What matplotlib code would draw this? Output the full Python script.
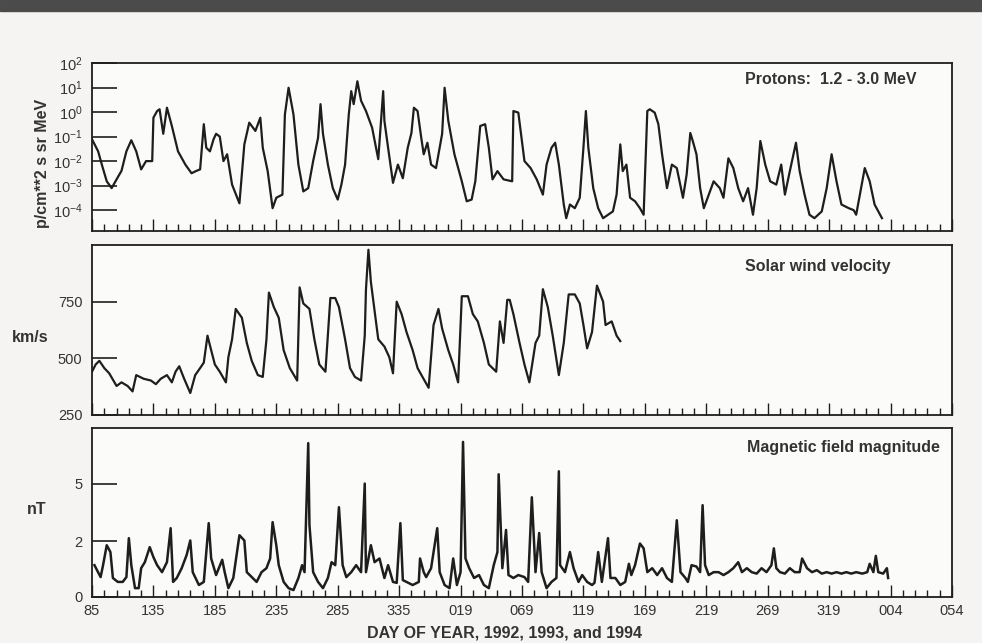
import numpy as np
import matplotlib.pyplot as plt
from matplotlib.patches import Rectangle
from matplotlib.ticker import FixedLocator, FuncFormatter, LogFormatterMathtext, NullLocator

plt.rcParams['font.family'] = ['Liberation Sans', 'DejaVu Sans']

# continuous day count from 1992 day 0 (1992 is a leap year)
proton_day = [85, 90, 93, 97, 101, 105, 109, 113, 117, 121, 125, 129, 134, 135, 138, 140, 143, 146,
              150, 155, 161, 166, 170, 173, 176, 178, 181, 184, 186, 189, 192, 195, 199, 205, 209,
              213, 218, 222, 224, 228, 232, 235, 240, 242, 245, 249, 253, 257, 261, 265, 269, 271,
              273, 277, 281, 285, 288, 291, 294, 296, 298, 301, 304, 308, 313, 318, 322, 323, 326,
              330, 334, 338, 342, 345, 347, 350, 353, 355, 358, 361, 365, 370, 372, 375, 380, 386,
              390, 394, 397, 401, 405, 408, 411, 415, 420, 427, 428, 432, 437, 442, 447, 452, 455,
              459, 462, 465, 469, 471, 474, 478, 482, 485, 487, 489, 493, 497, 501, 505, 509, 512,
              515, 517, 520, 523, 527, 531, 534, 537, 539, 543, 546, 549, 553, 557, 561, 566, 569,
              572, 574, 577, 580, 583, 587, 591, 596, 599, 603, 607, 611, 615, 619, 623, 626, 629,
              633, 637, 642, 646, 649, 653, 658, 661, 665, 669, 673, 679, 683, 687, 691, 695, 701,
              705, 707, 711, 714, 718, 722, 728]
proton_flux = [7.8e-2, 2.5e-2, 7.2e-3, 1.5e-3, 7.9e-4, 1.8e-3, 4.0e-3, 2.5e-2, 7.1e-2, 2.5e-2,
               4.6e-3, 1.0e-2, 1.0e-2, 5.9e-1, 1.1, 1.3, 1.3e-1, 1.5, 2.7e-1, 2.5e-2, 7.2e-3,
               3.2e-3, 4.0e-3, 4.6e-3, 3.2e-1, 3.5e-2, 2.5e-2, 7.9e-2, 1.3e-1, 1.0e-1, 1.0e-2,
               1.9e-2, 1.1e-3, 1.9e-4, 4.8e-2, 3.7e-1, 1.7e-1, 5.9e-1, 3.5e-2, 3.9e-3, 1.2e-4,
               3.2e-4, 4.3e-4, 7.9e-1, 9.8, 7.9e-1, 7.2e-3, 5.8e-4, 7.9e-4, 1.0e-2, 8.9e-2, 2.1,
               1.3e-1, 7.2e-3, 7.9e-4, 2.7e-4, 1.1e-3, 7.2e-3, 7.9e-1, 7.1, 2.1, 18.0, 2.9, 1.1,
               2.3e-1, 1.2e-2, 7.1, 4.4e-1, 3.5e-2, 1.3e-3, 7.2e-3, 2.0e-3, 3.5e-2, 1.4e-1, 1.5,
               1.1, 8.9e-2, 1.9e-2, 5.6e-2, 7.2e-3, 5.2e-3, 1.3e-1, 9.8, 4.4e-1, 1.9e-2, 1.5e-3,
               2.3e-4, 2.7e-4, 1.5e-3, 2.7e-1, 3.2e-1, 3.5e-2, 1.8e-3, 3.9e-3, 1.8e-3, 1.5e-3,
               1.1, 9.5e-1, 1.0e-2, 5.2e-3, 1.8e-3, 4.3e-4, 7.2e-3, 3.5e-2, 5.6e-2, 7.2e-3,
               1.7e-4, 4.7e-5, 1.7e-4, 1.2e-4, 3.2e-4, 3.5e-2, 1.1, 3.5e-2, 7.9e-4, 1.2e-4,
               4.7e-5, 6.5e-5, 8.9e-5, 4.3e-4, 4.8e-2, 3.9e-3, 7.2e-3, 3.2e-4, 2.3e-4, 1.2e-4,
               6.5e-5, 1.1, 1.3, 9.5e-1, 3.2e-1, 1.9e-2, 7.9e-4, 7.2e-3, 5.2e-3, 3.2e-4, 2.8e-3,
               1.4e-1, 6.6e-2, 1.9e-2, 7.9e-4, 1.2e-4, 4.3e-4, 1.5e-3, 7.9e-4, 3.2e-4, 1.3e-2,
               5.2e-3, 7.9e-4, 2.3e-4, 7.9e-4, 6.5e-5, 7.9e-4, 6.6e-2, 7.2e-3, 1.5e-3, 1.1e-3,
               7.2e-3, 4.3e-4, 3.9e-3, 5.6e-2, 3.9e-3, 4.3e-4, 6.5e-5, 4.7e-5, 8.9e-5, 7.9e-4,
               1.9e-2, 1.5e-3, 1.7e-4, 1.2e-4, 1.0e-4, 6.5e-5, 7.9e-4, 5.2e-3, 1.5e-3, 1.7e-4,
               4.7e-5]

vel_day = [85, 88, 91, 95, 99, 105, 109, 114, 118, 121, 127, 133, 137, 141, 146, 150, 153, 156,
           160, 165, 169, 173, 176, 179, 182, 185, 189, 194, 196, 199, 202, 207, 211, 215, 220,
           224, 227, 229, 233, 237, 241, 246, 252, 254, 257, 262, 266, 270, 275, 279, 283, 286,
           291, 295, 299, 304, 307, 308, 310, 312, 315, 318, 323, 327, 330, 333, 337, 341, 346,
           350, 354, 359, 363, 367, 370, 375, 379, 383, 386, 391, 395, 399, 404, 408, 414, 417,
           420, 423, 425, 428, 433, 437, 441, 446, 449, 452, 456, 460, 465, 469, 473, 478, 482,
           485, 488, 492, 496, 501, 503, 508, 512, 515]
vel = [441, 473, 489, 457, 434, 378, 394, 378, 354, 426, 410, 402, 386, 410, 426, 394, 441, 465,
       410, 347, 426, 457, 481, 600, 536, 473, 441, 394, 505, 584, 718, 679, 568, 489, 426, 418,
       584, 790, 726, 679, 536, 457, 402, 813, 742, 718, 584, 473, 441, 766, 766, 726, 584, 457,
       418, 402, 600, 805, 979, 837, 710, 584, 552, 505, 434, 750, 695, 616, 536, 457, 418, 370,
       647, 718, 631, 536, 473, 394, 774, 774, 695, 663, 568, 473, 441, 663, 568, 758, 758, 695,
       568, 473, 394, 568, 600, 805, 726, 600, 426, 568, 782, 782, 742, 647, 544, 616, 821, 750,
       647, 663, 600, 576]

mag_day = [87, 92, 94, 97, 100, 102, 106, 110, 113, 115, 117, 120, 123, 125, 128, 132, 135, 138,
           142, 146, 149, 151, 154, 158, 162, 165, 167, 172, 176, 180, 182, 186, 191, 193, 196,
           200, 205, 209, 211, 215, 219, 223, 227, 230, 232, 235, 237, 241, 245, 249, 253, 256,
           258, 261, 262, 265, 269, 273, 277, 280, 283, 286, 289, 292, 296, 300, 304, 307, 308,
           312, 315, 319, 323, 326, 330, 333, 336, 338, 341, 346, 351, 352, 355, 357, 361, 366,
           368, 372, 376, 379, 382, 385, 387, 389, 392, 396, 400, 404, 408, 412, 415, 416, 419,
           422, 424, 428, 432, 437, 440, 443, 446, 449, 451, 455, 459, 463, 465, 466, 470, 474,
           477, 481, 484, 488, 492, 494, 497, 500, 505, 507, 511, 515, 519, 522, 524, 527, 531,
           534, 537, 541, 545, 549, 553, 557, 561, 564, 568, 570, 573, 577, 580, 582, 584, 587,
           591, 595, 599, 603, 607, 611, 614, 618, 622, 626, 630, 634, 638, 640, 642, 645, 649,
           653, 657, 661, 663, 667, 671, 675, 679, 683, 687, 691, 695, 699, 703, 707, 712, 716,
           718, 721, 723, 725, 729, 732, 733]
mag = [1.05, 0.63, 1.05, 1.83, 1.55, 0.6, 0.47, 0.47, 0.63, 2.13, 1.05, 0.27, 0.27, 0.94, 1.16,
       1.75, 1.35, 1.05, 0.8, 1.16, 2.58, 0.47, 0.6, 0.94, 1.43, 2.03, 0.8, 0.37, 0.47, 2.82, 1.3,
       0.7, 1.25, 0.8, 0.27, 0.6, 2.26, 2.03, 0.8, 0.63, 0.47, 0.8, 0.94, 1.3, 2.87, 1.83, 1.05,
       0.47, 0.27, 0.21, 0.6, 1.05, 0.8, 7.9, 2.72, 0.8, 0.47, 0.27, 0.6, 1.16, 1.05, 3.63, 1.05,
       0.63, 0.8, 1.05, 0.8, 5.0, 0.8, 1.83, 1.16, 1.3, 0.6, 1.05, 0.47, 0.44, 2.82, 0.53, 0.47,
       0.37, 0.47, 1.3, 0.8, 0.63, 0.94, 2.58, 0.8, 0.37, 0.27, 1.3, 0.37, 0.8, 8.0, 1.3, 0.94,
       0.6, 0.7, 0.37, 0.27, 1.05, 1.55, 5.6, 0.94, 2.5, 0.7, 0.6, 0.7, 0.63, 0.47, 4.18, 0.8,
       2.36, 0.8, 0.27, 0.47, 0.6, 5.8, 1.05, 0.8, 1.55, 0.94, 0.47, 0.7, 0.47, 0.37, 0.44, 1.55,
       0.47, 2.13, 0.6, 0.6, 0.37, 0.47, 1.1, 0.7, 1.05, 1.9, 1.7, 0.8, 0.94, 0.7, 0.94, 0.6,
       0.47, 2.96, 0.8, 0.6, 0.47, 1.05, 1.0, 0.8, 3.74, 1.05, 0.7, 0.8, 0.8, 0.7, 0.8, 0.94,
       1.16, 0.8, 0.94, 0.8, 0.75, 0.94, 0.8, 1.05, 1.7, 0.94, 0.8, 0.75, 0.94, 0.8, 0.8, 1.3,
       0.94, 0.8, 0.87, 0.75, 0.8, 0.75, 0.8, 0.75, 0.8, 0.75, 0.8, 0.75, 0.8, 1.1, 0.8, 1.4,
       0.8, 0.75, 0.94, 0.6]

day_ticks = [85, 135, 185, 235, 285, 335, 385, 435, 485, 535, 585, 635, 685, 735, 785]
day_minor = list(range(95, 785, 10))


def doy(t, pos=None):
    t = int(round(t))
    if t <= 366:
        return str(t)
    if t <= 731:
        return f"{t - 366:03d}"
    return f"{t - 731:03d}"


ink = '#1e1e1e'
txt = '#333333'
fig = plt.figure(figsize=(9.82, 6.43), dpi=100, facecolor='#f5f4f2')
fig.patches.append(Rectangle((0, 1 - 11 / 643), 1, 11 / 643, transform=fig.transFigure,
                             color='#4b4b4b', zorder=0))

L, W = 92 / 982, 860 / 982
ax1 = fig.add_axes([L, 412 / 643, W, 168 / 643])
ax2 = fig.add_axes([L, 228 / 643, W, 170 / 643])
ax3 = fig.add_axes([L, 46 / 643, W, 169 / 643])

for ax in (ax1, ax2, ax3):
    ax.set_facecolor('#fbfbfa')
    for s in ax.spines.values():
        s.set_linewidth(1.3)
        s.set_color(ink)
    ax.set_xlim(85, 785)
    ax.xaxis.set_major_locator(FixedLocator(day_ticks))
    ax.xaxis.set_minor_locator(FixedLocator(day_minor))
    ax.tick_params(axis='x', which='major', direction='in', length=9, width=1.0, color=ink,
                   labelsize=10.5, labelcolor=txt, pad=5)
    ax.tick_params(axis='x', which='minor', direction='in', length=5, width=1.0, color=ink)
    ax.tick_params(axis='y', which='major', direction='in', length=18, width=1.2, color=ink,
                   labelsize=10.5, labelcolor=txt, pad=7)
    ax.tick_params(axis='y', which='minor', left=False)

# protons
ax1.plot(proton_day, proton_flux, color=ink, lw=1.6)
ax1.set_yscale('log')
ax1.set_ylim(10 ** -4.85, 1e2)
ax1.yaxis.set_major_locator(FixedLocator([1e-4, 1e-3, 1e-2, 1e-1, 1e0, 1e1, 1e2]))
ax1.yaxis.set_major_formatter(LogFormatterMathtext())
ax1.yaxis.set_minor_locator(NullLocator())
ax1.tick_params(axis='x', labelbottom=False)
ax1.text(0.759, 0.9, 'Protons:  1.2 - 3.0 MeV', transform=ax1.transAxes, fontsize=11.5,
         fontweight='bold', color=txt, va='center')

# solar wind
ax2.plot(vel_day, vel, color=ink, lw=1.6)
ax2.set_ylim(250, 1000)
ax2.set_yticks([250, 500, 750])
ax2.tick_params(axis='x', labelbottom=False)
ax2.text(0.759, 0.875, 'Solar wind velocity', transform=ax2.transAxes, fontsize=11.5,
         fontweight='bold', color=txt, va='center')

# magnetic field, compressed scale as in the original
ax3.set_yscale('function', functions=(lambda v: np.log1p(np.asarray(v) / 4.5),
                                      lambda v: 4.5 * np.expm1(np.asarray(v))))
ax3.plot(mag_day, mag, color=ink, lw=1.8)
ax3.set_ylim(0, 9.2)
ax3.yaxis.set_major_locator(FixedLocator([0, 2, 5]))
ax3.yaxis.set_major_formatter(FuncFormatter(lambda v, p: f"{v:g}"))
ax3.yaxis.set_minor_locator(NullLocator())
ax3.xaxis.set_major_formatter(FuncFormatter(doy))
ax3.text(0.762, 0.885, 'Magnetic field magnitude', transform=ax3.transAxes, fontsize=11.5,
         fontweight='bold', color=txt, va='center')

fig.text(42 / 982, 1 - 163 / 643, 'p/cm**2 s sr MeV', rotation=90, ha='center', va='center',
         fontsize=11.5, fontweight='bold', color=txt)
fig.text(30 / 982, 1 - 337 / 643, 'km/s', ha='center', va='center', fontsize=11.5,
         fontweight='bold', color=txt)
fig.text(37 / 982, 1 - 510 / 643, 'nT', ha='center', va='center', fontsize=11.5,
         fontweight='bold', color=txt)
fig.text(504 / 982, 1 - 633 / 643, 'DAY OF YEAR, 1992, 1993, and 1994', ha='center',
         va='center', fontsize=11.5, fontweight='bold', color=txt)

fig.savefig('out.png', dpi=100, facecolor=fig.get_facecolor())
